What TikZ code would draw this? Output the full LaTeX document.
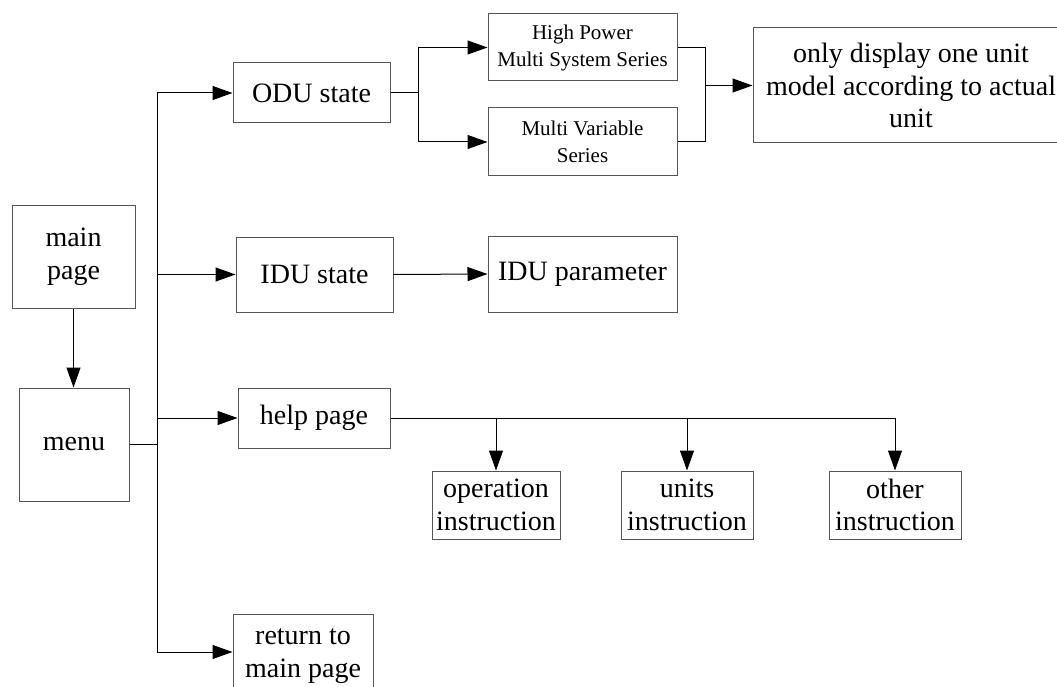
\documentclass[tikz,border=0pt]{standalone}
\usepackage{fontspec}
\setmainfont{Liberation Serif}
\usepackage{xcolor}
\usetikzlibrary{arrows.meta}

\definecolor{boxgray}{RGB}{85,85,85}

\tikzset{
  blk/.style={draw=boxgray, line width=1pt, inner sep=0pt, align=center,
    font=\fontsize{28}{32.5}\selectfont},
  blksm/.style={blk, font=\fontsize{21}{27}\selectfont},
  link/.style={draw=black, line width=1pt},
  tip/.style={link, -{Triangle[length=20pt,width=14pt]}}
}

\begin{document}
\begin{tikzpicture}[x=1pt,y=1pt,yscale=-1]
\useasboundingbox (0,0) rectangle (1057,687);

% main page and menu
\node[blk, minimum width=123pt, minimum height=102pt] (mainpg) at (73.5,257) {main\\page};
\node[blk, minimum width=110pt, minimum height=113pt] (menu) at (74,444.5) {menu};

% outdoor unit branch
\node[blk, minimum width=157pt, minimum height=60pt] (odu) at (311.5,93) {ODU state};
\node[blksm, minimum width=189pt, minimum height=67pt] (hpms) at (582.5,47.5) {High Power\\Multi System Series};
\node[blksm, minimum width=189pt, minimum height=68pt] (mvs) at (582.5,142) {Multi Variable\\Series};
\node[blk, minimum width=316pt, minimum height=115pt] (onlyunit) at (911,85.5) {only display one unit\\model according to actual\\unit};

% indoor unit branch
\node[blk, minimum width=157pt, minimum height=75pt] (idus) at (314.5,274.5) {IDU state};
\node[blk, minimum width=189pt, minimum height=76pt] (idup) at (582.5,274) {IDU parameter};

% help branch
\node[blk, minimum width=152pt, minimum height=60pt] (help) at (314,418) {help page};
\node[blk, minimum width=128pt, minimum height=68pt] (opins) at (496,505) {operation\\instruction};
\node[blk, minimum width=132pt, minimum height=68pt] (unins) at (687,505) {units\\instruction};
\node[blk, minimum width=132pt, minimum height=68pt] (othins) at (895,505) {other\\instruction};

% return
\node[blk, minimum width=140pt, minimum height=84pt] (ret) at (303,656) {return to\\main page};

% bus from menu
\coordinate (bustop) at (157,93);
\coordinate (busbot) at (157,652);
\draw[tip] (mainpg.south) -- (mainpg.south |- menu.north);
\draw[link] (menu.east) -- (menu.east -| bustop);
\draw[link] (bustop) -- (busbot);
\draw[tip] (bustop) -- (odu.west);
\draw[tip] (bustop |- idus.west) -- (idus.west);
\draw[tip] (bustop |- help.west) -- (help.west);
\draw[tip] (busbot) -- (busbot -| ret.west);

% ODU split and join
\coordinate (oduj) at (418,93);
\coordinate (seriesj) at (705,85.5);
\draw[link] (odu.east) -- (oduj);
\draw[tip] (oduj) |- (hpms.west);
\draw[tip] (oduj) |- (mvs.west);
\draw[link] (hpms.east) -| (seriesj);
\draw[link] (mvs.east) -| (seriesj);
\draw[tip] (seriesj) -- (onlyunit.west);

\draw[tip] (idus.east) -- (idup.west);

% help page fan-out
\draw[link] (help.east) -- (help.east -| othins.north);
\foreach \n in {opins,unins,othins}
  \draw[tip] (help.east -| \n.north) -- (\n.north);

\end{tikzpicture}
\end{document}
